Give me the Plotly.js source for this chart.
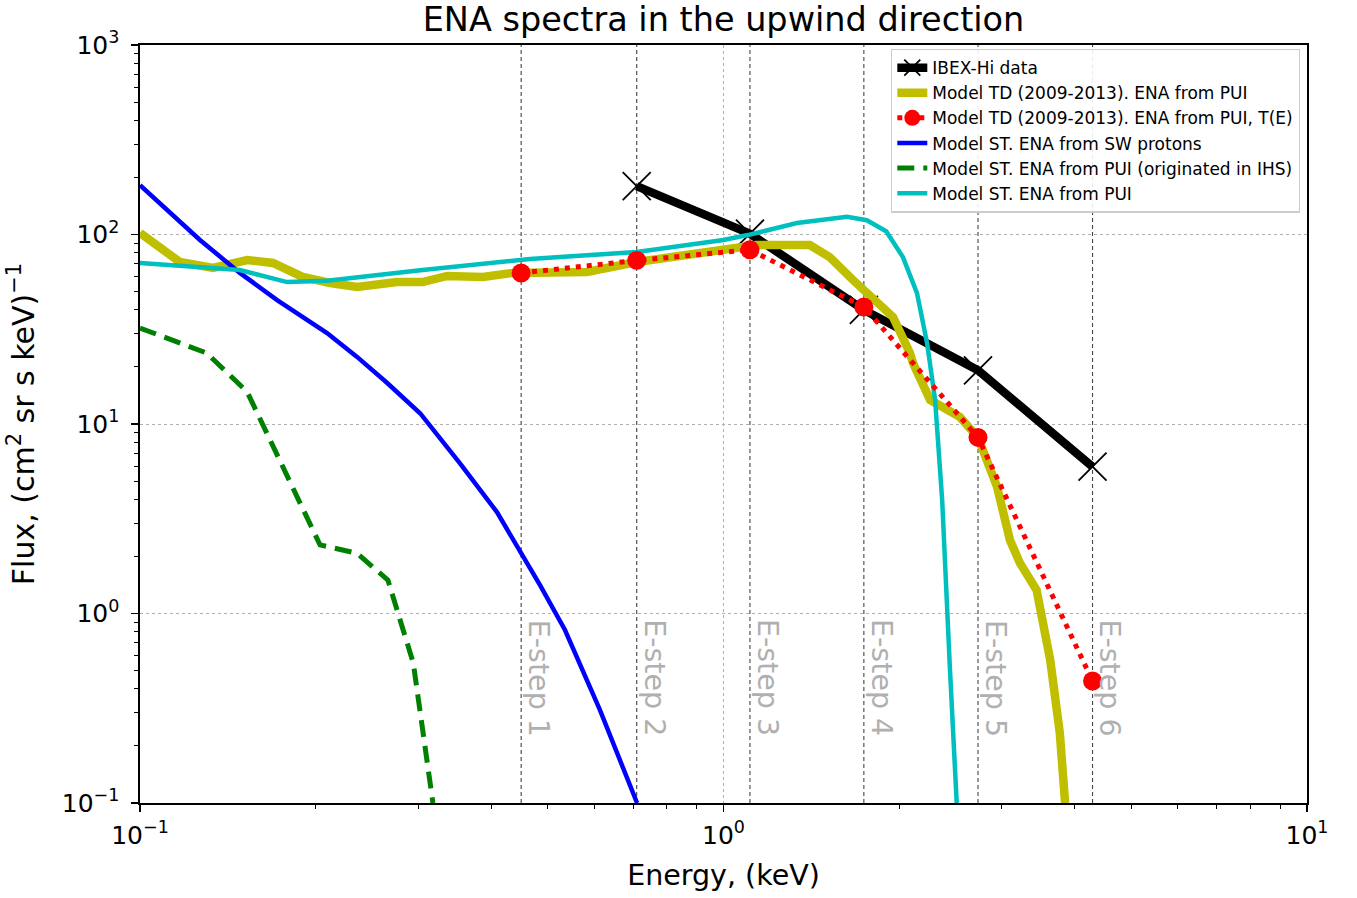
<!DOCTYPE html>
<html>
<head>
<meta charset="utf-8">
<script src="https://cdn.plot.ly/plotly-3.0.1.min.js"></script>
<style>html,body{margin:0;padding:0;background:#fff;}#chart{width:1357px;height:898px;}</style>
</head>
<body>
<div id="chart"></div>
<script>
// ---- data ----
const estepE = [0.45, 0.71, 1.11, 1.74, 2.73, 4.29];
const estepLabels = ["E-step 1", "E-step 2", "E-step 3", "E-step 4", "E-step 5", "E-step 6"];

const ibexE = [0.71, 1.11, 1.74, 2.73, 4.29];
const ibexF = [180, 101, 40, 19.2, 5.95];

const tdTE_E = [0.45, 0.71, 1.11, 1.74, 2.73, 4.29];
const tdTE_F = [62.6, 73, 83, 41.5, 8.5, 0.44];

const tdE = [0.1, 0.117, 0.1334, 0.1526, 0.169, 0.190, 0.2118, 0.2355, 0.2757, 0.305, 0.336, 0.387, 0.4355, 0.583, 0.71, 1.038, 1.14, 1.406, 1.52, 1.667, 1.74, 1.80, 1.952, 2.087, 2.112, 2.26, 2.378, 2.54, 2.73, 2.943, 3.097, 3.22, 3.44, 3.63, 3.77, 3.85];
const tdF = [102, 71.6, 66.6, 73.3, 70.8, 59.7, 55.5, 52.8, 56.1, 56.1, 60.4, 59.7, 62.7, 63.4, 71.6, 82.8, 88, 88, 76, 57.5, 51, 46, 36.7, 23.7, 21, 13.4, 12.3, 10.9, 8.5, 4.66, 2.44, 1.85, 1.33, 0.569, 0.234, 0.1];

const swE = [0.1, 0.1267, 0.1483, 0.1718, 0.2092, 0.2355, 0.265, 0.302, 0.3535, 0.409, 0.4848, 0.535, 0.614, 0.711];
const swF = [182, 93.5, 62.7, 45.1, 30.2, 22.6, 16.5, 11.4, 6.2, 3.43, 1.41, 0.818, 0.31, 0.1];

const ihsE = [0.1, 0.130, 0.1526, 0.2035, 0.2355, 0.266, 0.294, 0.304, 0.3177];
const ihsF = [32.1, 23.7, 14.8, 2.30, 2.08, 1.50, 0.548, 0.264, 0.1];

const stE = [0.1, 0.1483, 0.1787, 0.2092, 0.305, 0.466, 0.71, 1.0, 1.1, 1.336, 1.628, 1.76, 1.90, 2.03, 2.146, 2.233, 2.305, 2.37, 2.443, 2.51];
const stF = [70.8, 65, 56.1, 57, 65, 74.3, 80.9, 93.6, 99.3, 115, 124, 119, 104, 76, 49, 26.7, 13.4, 3.97, 0.522, 0.1];

const xTickVals = [0.1, 1, 10];
const xTickText = ["10<sup>\u22121</sup>", "10<sup>0</sup>", "10<sup>1</sup>"];
const yTickVals = [0.1, 1, 10, 100, 1000];
const yTickText = ["10<sup>\u22121</sup>", "10<sup>0</sup>", "10<sup>1</sup>", "10<sup>2</sup>", "10<sup>3</sup>"];

// minor tick positions (2..9 within each decade)
function minorTicks(lo, hi) {
  const out = [];
  for (let p = lo; p < hi; p++) for (let m = 2; m <= 9; m++) out.push(m * Math.pow(10, p));
  return out;
}

const traces = [];
// E-step vertical lines
estepE.forEach(e => {
  traces.push({x: [e, e], y: [0.1, 1000], mode: 'lines', showlegend: false, hoverinfo: 'skip',
    line: {color: '#444444', width: 1.1, dash: '4px,3px'}});
});

traces.push({name: 'IBEX-Hi data', x: ibexE, y: ibexF, mode: 'lines+markers', legendrank: 1,
  line: {color: 'black', width: 8.5},
  marker: {symbol: 'x-thin', size: 28, color: 'black', line: {color: 'black', width: 1.8}}});
traces.push({name: 'Model TD (2009-2013). ENA from PUI', x: tdE, y: tdF, mode: 'lines', legendrank: 2,
  line: {color: '#bfbf00', width: 8.5}});
traces.push({name: 'Model ST. ENA from SW protons', x: swE, y: swF, mode: 'lines', legendrank: 4,
  line: {color: '#0000ff', width: 4.5}});
traces.push({name: 'Model ST. ENA from PUI (originated in IHS)', x: ihsE, y: ihsF, mode: 'lines', legendrank: 5,
  line: {color: '#008000', width: 5, dash: '17px,9px'}});
traces.push({name: 'Model ST. ENA from PUI', x: stE, y: stF, mode: 'lines', legendrank: 6,
  line: {color: '#00bfbf', width: 4.5}});
traces.push({name: 'Model TD (2009-2013). ENA from PUI, T(E)', x: tdTE_E, y: tdTE_F, mode: 'lines+markers', legendrank: 3,
  line: {color: '#ff0000', width: 5, dash: '5px,6px'},
  marker: {symbol: 'circle', size: 19, color: '#ff0000'}});

const annotations = estepE.map((e, i) => ({
  x: Math.log10(e), xref: 'x', y: 0.165, yref: 'paper', text: estepLabels[i],
  textangle: 90, showarrow: false, xanchor: 'center', yanchor: 'middle', xshift: 17,
  font: {family: 'DejaVu Sans', size: 28.5, color: '#b0b0b0'}
}));

const axisCommon = {
  showline: true, linecolor: 'black', linewidth: 1.6, mirror: true,
  ticks: 'outside', ticklen: 7, tickwidth: 1.3, tickcolor: 'black',
  showgrid: true, gridcolor: '#b0b0b0', griddash: 'dot', gridwidth: 1,
  zeroline: false, tickfont: {family: 'DejaVu Sans', size: 25, color: 'black'},
  tickmode: 'array'
};

const layout = {
  width: 1357, height: 898,
  margin: {l: 140, r: 50, t: 45, b: 95},
  paper_bgcolor: 'white', plot_bgcolor: 'white',
  font: {family: 'DejaVu Sans', color: 'black'},
  title: {text: 'ENA spectra in the upwind direction', font: {family: 'DejaVu Sans', size: 33.5, color: 'black'},
    x: 0.5, xanchor: 'center', y: 0.979, yanchor: 'middle', xref: 'paper'},
  xaxis: Object.assign({}, axisCommon, {
    type: 'log', range: [-1, 1], tickvals: xTickVals, ticktext: xTickText, ticklabelstandoff: 2,
    minor: {tickmode: 'array', tickvals: minorTicks(-1, 1), ticks: 'outside', ticklen: 4, tickwidth: 1, tickcolor: 'black', showgrid: false},
    title: {text: 'Energy, (keV)', font: {family: 'DejaVu Sans', size: 28.5}, standoff: 16}
  }),
  yaxis: Object.assign({}, axisCommon, {
    type: 'log', range: [-1, 3], tickvals: yTickVals, ticktext: yTickText, ticklabelstandoff: 7,
    minor: {tickmode: 'array', tickvals: minorTicks(-1, 3), ticks: 'outside', ticklen: 4, tickwidth: 1, tickcolor: 'black', showgrid: false},
    title: {text: 'Flux, (cm<sup>2</sup> sr s keV)<sup>\u22121</sup>', font: {family: 'DejaVu Sans', size: 30}, standoff: 18}
  }),
  legend: {x: 0.994, xanchor: 'right', y: 0.995, yanchor: 'top', bgcolor: 'rgba(255,255,255,0.9)',
    bordercolor: '#cccccc', borderwidth: 1.3, font: {family: 'DejaVu Sans', size: 17, color: 'black'},
    tracegroupgap: 0},
  annotations: annotations
};

Plotly.newPlot('chart', traces, layout, {displayModeBar: false, staticPlot: true});
</script>
</body>
</html>
